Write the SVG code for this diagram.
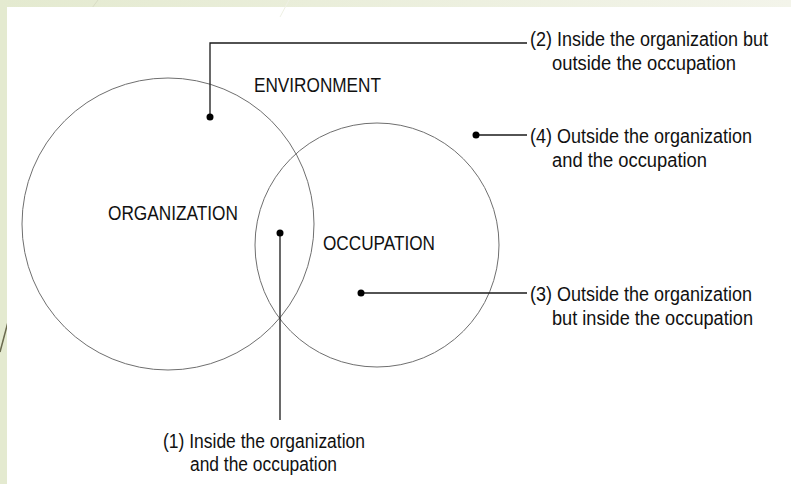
<svg xmlns="http://www.w3.org/2000/svg" width="791" height="484" viewBox="0 0 791 484">
<defs>
<linearGradient id="topband" x1="0" y1="0" x2="1" y2="0">
<stop offset="0" stop-color="#E4EAD0"/>
<stop offset="1" stop-color="#F3F4EA"/>
</linearGradient>
<style>
.circ{fill:none;stroke:#6f6f6f;stroke-width:1}
.lead{fill:none;stroke:#1a1a1a;stroke-width:1.3}
.dot{fill:#000}
.lbl{font-family:"Liberation Sans",Arial,sans-serif;font-size:20px;fill:#111}
</style>
</defs>
<rect x="0" y="0" width="791" height="484" fill="#E4EAD0"/>
<rect x="0" y="0" width="791" height="7" fill="url(#topband)"/>
<line x1="8" y1="322" x2="0" y2="352" stroke="#6b6b4f" stroke-width="1.5"/>
<line x1="98" y1="0" x2="92" y2="8" stroke="#d8dcc4" stroke-width="1"/>
<rect x="7" y="7" width="784" height="477" fill="#ffffff"/>
<line x1="289" y1="0" x2="280" y2="17" stroke="#eef0e4" stroke-width="1"/>

<g id="organization">
<circle class="circ" cx="168" cy="224" r="146"/>
<text class="lbl" x="108" y="220" textLength="130" lengthAdjust="spacingAndGlyphs">ORGANIZATION</text>
</g>
<g id="occupation">
<circle class="circ" cx="377" cy="245" r="122"/>
<text class="lbl" x="323" y="250" textLength="112" lengthAdjust="spacingAndGlyphs">OCCUPATION</text>
</g>
<g id="environment">
<text class="lbl" x="254" y="92" textLength="127" lengthAdjust="spacingAndGlyphs">ENVIRONMENT</text>
</g>

<g id="connectors">
<path class="lead" d="M280,233 V420"/>
<path class="lead" d="M210,117 V43 H527"/>
<path class="lead" d="M476,135 H527"/>
<path class="lead" d="M361,293 H527"/>
<circle class="dot" cx="280" cy="233" r="3.5"/>
<circle class="dot" cx="210" cy="117" r="3.5"/>
<circle class="dot" cx="476" cy="135" r="3.5"/>
<circle class="dot" cx="361" cy="293" r="3.5"/>
</g>

<g id="label1">
<text class="lbl" x="163" y="448" textLength="202" lengthAdjust="spacingAndGlyphs">(1) Inside the organization</text>
<text class="lbl" x="190" y="471" textLength="147" lengthAdjust="spacingAndGlyphs">and the occupation</text>
</g>
<g id="label2">
<text class="lbl" x="530" y="46" textLength="238" lengthAdjust="spacingAndGlyphs">(2) Inside the organization but</text>
<text class="lbl" x="552" y="70" textLength="184" lengthAdjust="spacingAndGlyphs">outside the occupation</text>
</g>
<g id="label4">
<text class="lbl" x="530" y="143" textLength="222" lengthAdjust="spacingAndGlyphs">(4) Outside the organization</text>
<text class="lbl" x="552" y="167" textLength="155" lengthAdjust="spacingAndGlyphs">and the occupation</text>
</g>
<g id="label3">
<text class="lbl" x="530" y="301" textLength="222" lengthAdjust="spacingAndGlyphs">(3) Outside the organization</text>
<text class="lbl" x="552" y="325" textLength="201" lengthAdjust="spacingAndGlyphs">but inside the occupation</text>
</g>
</svg>
